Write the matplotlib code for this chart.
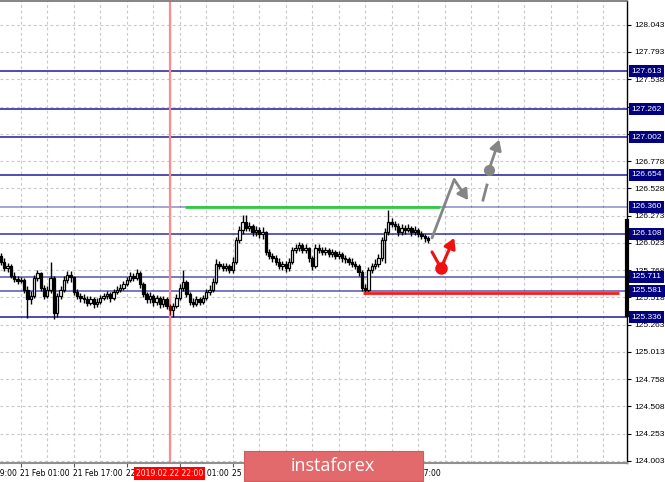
import matplotlib
matplotlib.use("Agg")
import matplotlib.pyplot as plt
from matplotlib.transforms import blended_transform_factory
from matplotlib.patches import FancyBboxPatch

# ---------------- data ----------------
first_open = 125.90
closes = [125.85, 125.79, 125.81, 125.72, 125.69, 125.67, 125.68, 125.59, 125.50, 125.53,
          125.70, 125.74, 125.61, 125.53, 125.59, 125.70, 125.37, 125.53, 125.59, 125.68,
          125.73, 125.71, 125.57, 125.53, 125.51, 125.50, 125.47, 125.50, 125.46, 125.48,
          125.51, 125.53, 125.55, 125.51, 125.57, 125.59, 125.61, 125.64, 125.68, 125.72,
          125.70, 125.74, 125.64, 125.55, 125.50, 125.53, 125.48, 125.51, 125.46, 125.50,
          125.44, 125.40, 125.44, 125.51, 125.61, 125.66, 125.55, 125.48, 125.46, 125.50,
          125.48, 125.51, 125.57, 125.59, 125.66, 125.83, 125.81, 125.79, 125.81, 125.77,
          125.85, 126.05, 126.14, 126.22, 126.16, 126.18, 126.12, 126.14, 126.11, 126.12,
          125.94, 125.90, 125.88, 125.85, 125.81, 125.83, 125.79, 125.85, 125.96, 125.98,
          126.00, 125.96, 125.98, 125.88, 125.81, 125.98, 125.96, 125.94, 125.96, 125.92,
          125.94, 125.90, 125.92, 125.88, 125.87, 125.85, 125.83, 125.81, 125.75, 125.61,
          125.59, 125.77, 125.81, 125.83, 125.88, 126.05, 126.12, 126.22, 126.20, 126.18,
          126.12, 126.16, 126.14, 126.16, 126.12, 126.14, 126.11, 126.09, 126.07, 126.05]
highs = [125.93, 125.88, 125.84, 125.83, 125.75, 125.72, 125.71, 125.70, 125.62, 125.58,
         125.73, 125.77, 125.75, 125.63, 125.62, 125.85, 125.72, 125.56, 125.62, 125.72,
         125.76, 125.76, 125.72, 125.60, 125.56, 125.55, 125.53, 125.53, 125.52, 125.51,
         125.54, 125.56, 125.58, 125.57, 125.60, 125.62, 125.64, 125.67, 125.71, 125.75,
         125.74, 125.78, 125.76, 125.66, 125.57, 125.57, 125.55, 125.54, 125.53, 125.53,
         125.52, 125.46, 125.47, 125.55, 125.64, 125.77, 125.68, 125.57, 125.51, 125.53,
         125.52, 125.54, 125.60, 125.63, 125.70, 125.87, 125.86, 125.84, 125.84, 125.83,
         125.89, 126.08, 126.18, 126.28, 126.28, 126.22, 126.20, 126.18, 126.17, 126.17,
         126.13, 125.97, 125.93, 125.91, 125.88, 125.86, 125.86, 125.88, 125.99, 126.01,
         126.03, 126.02, 126.01, 125.99, 125.90, 126.01, 126.01, 125.99, 125.99, 125.98,
         125.97, 125.96, 125.95, 125.94, 125.91, 125.89, 125.88, 125.86, 125.83, 125.77,
         125.64, 125.80, 125.84, 125.87, 125.92, 126.08, 126.16, 126.33, 126.25, 126.23,
         126.21, 126.20, 126.19, 126.20, 126.18, 126.18, 126.16, 126.13, 126.11, 126.09]
lows = [125.82, 125.76, 125.75, 125.70, 125.66, 125.64, 125.65, 125.56, 125.33, 125.46,
        125.51, 125.67, 125.58, 125.50, 125.51, 125.56, 125.32, 125.34, 125.50, 125.57,
        125.65, 125.66, 125.54, 125.50, 125.48, 125.47, 125.44, 125.45, 125.42, 125.43,
        125.46, 125.49, 125.50, 125.48, 125.49, 125.55, 125.57, 125.59, 125.62, 125.66,
        125.67, 125.68, 125.61, 125.52, 125.47, 125.47, 125.44, 125.45, 125.42, 125.43,
        125.41, 125.36, 125.34, 125.42, 125.49, 125.58, 125.52, 125.45, 125.43, 125.44,
        125.45, 125.46, 125.49, 125.54, 125.57, 125.64, 125.78, 125.76, 125.76, 125.74,
        125.74, 125.83, 126.02, 126.11, 126.13, 126.13, 126.09, 126.09, 126.07, 126.06,
        125.91, 125.87, 125.85, 125.82, 125.78, 125.77, 125.75, 125.76, 125.83, 125.93,
        125.95, 125.93, 125.93, 125.85, 125.77, 125.79, 125.93, 125.91, 125.91, 125.89,
        125.89, 125.87, 125.87, 125.85, 125.84, 125.82, 125.80, 125.78, 125.72, 125.58,
        125.55, 125.57, 125.74, 125.78, 125.80, 125.86, 125.84, 126.10, 126.17, 126.14,
        126.09, 126.10, 126.11, 126.12, 126.09, 126.10, 126.08, 126.06, 126.03, 126.02]
opens = [first_open] + closes[:-1]
highlight_idx = 51

y_tick_labels = ["128.043", "127.793", "127.538", "127.283", "127.028", "126.778", "126.528",
                 "126.273", "126.023", "125.768", "125.518", "125.263", "125.013", "124.758",
                 "124.508", "124.253", "124.003"]
levels = [127.613, 127.262, 127.002, 126.654, 126.360, 126.108, 125.711, 125.581, 125.336]
level_alpha = [1.0, 1.0, 1.0, 1.0, 0.5, 0.9, 0.75, 0.75, 1.0]

x_tick_pos = [-10, 6, 22, 38, 54, 70, 86, 102, 118]
x_tick_labels = ["20 Feb 09:00", "21 Feb 01:00", "21 Feb 17:00", "22 Feb 09:00", "25 Feb 01:00",
                 "25 Feb 17:00", "26 Feb 09:00", "27 Feb 01:00", "27 Feb 17:00"]
x_grid_pos = list(range(6, 190, 8))
crosshair_label = "2019.02.22 22:00"

green_level = 126.360
green_span = [55.6, 132.6]
red_level = 125.555
red_span = [109.4, 186.7]
range_bar = [125.36, 126.23]

grey_path_x = [130.2, 136.9]
grey_path_y = [126.07, 126.61]
grey_head_end = [141.1, 126.42]
grey_dash_x = [145.6, 146.8]
grey_dash_y = [126.42, 126.56]
grey_dot = [147.4, 126.70]
grey_tip = [150.5, 126.98]
red_path_x = [130.2, 132.9]
red_path_y = [125.94, 125.79]
red_tip = [136.9, 126.07]

# ---------------- figure ----------------
W, H = 665, 482
fig = plt.figure(figsize=(W / 100, H / 100), dpi=100)
fig.patch.set_facecolor("white")
ax = fig.add_axes([0, 19 / H, 627 / W, 462 / H])
ax.set_xlim(-0.3, 189.1)
ax.set_ylim(123.984, 128.265)

FONT = "DejaVu Sans"
FS = 5.5
YFONT = "Liberation Sans"
YFS = 6.0

# grid
ytick_vals = [float(v) for v in y_tick_labels]
for v in ytick_vals:
    ax.axhline(v, color="#c8c8c8", lw=0.8, ls=(0, (2.5, 2.5)), zorder=0)
for gx in x_grid_pos:
    ax.axvline(gx, color="#c8c8c8", lw=0.8, ls=(0, (2.5, 2.5)), zorder=0)

# levels
for lv, a in zip(levels, level_alpha):
    ax.axhline(lv, color="#1c1c96", lw=1.1, alpha=a, zorder=1)

# crosshair
ax.axvline(highlight_idx, color="#ff8a8a", lw=1.6, zorder=1.5)

# candles
for i, (o, h, l, c) in enumerate(zip(opens, highs, lows, closes)):
    col = "#800000" if i == highlight_idx else "black"
    ax.vlines(i, l, h, color=col, lw=1.0, zorder=3)
    bottom = min(o, c)
    height = max(abs(c - o), 0.006)
    face = "white" if c > o else col
    ax.bar(i, height, bottom=bottom, width=0.7, facecolor=face, edgecolor=col,
           lw=0.9, zorder=4)

# green / red horizontal lines
ax.plot(green_span, [green_level] * 2, color="#2ecc40", lw=2.0, zorder=5, solid_capstyle="butt")
ax.plot(red_span, [red_level] * 2, color="#ff1a1a", lw=2.0, zorder=5, solid_capstyle="butt")

# grey forecast
grey = "#858585"
ax.plot(grey_path_x, grey_path_y, color=grey, lw=2.0, zorder=6, solid_capstyle="round")
ax.annotate("", xy=grey_head_end, xytext=(grey_path_x[-1], grey_path_y[-1]),
            arrowprops=dict(arrowstyle="-|>,head_length=0.6,head_width=0.35", color=grey, lw=2.0,
                            shrinkA=0, shrinkB=0), zorder=6)
ax.plot(grey_dash_x, grey_dash_y, color=grey, lw=2.0, zorder=6)
ax.plot([grey_dot[0]], [grey_dot[1]], "o", color=grey, ms=7, zorder=6)
ax.annotate("", xy=grey_tip, xytext=grey_dot,
            arrowprops=dict(arrowstyle="-|>,head_length=0.6,head_width=0.35", color=grey, lw=2.0,
                            shrinkA=0, shrinkB=0), zorder=6)

# red forecast
redc = "#f01010"
ax.plot(red_path_x, red_path_y, color=redc, lw=2.2, zorder=6, solid_capstyle="round")
ax.plot([red_path_x[-1]], [red_path_y[-1]], "o", color=redc, ms=8, zorder=6)
ax.annotate("", xy=red_tip, xytext=(red_path_x[-1], red_path_y[-1]),
            arrowprops=dict(arrowstyle="-|>,head_length=0.6,head_width=0.35", color=redc, lw=2.2,
                            shrinkA=0, shrinkB=0), zorder=6)

# spines
ax.spines["left"].set_visible(False)
ax.spines["top"].set_color("#707070")
ax.spines["top"].set_linewidth(1.2)
ax.spines["bottom"].set_color("#909090")
ax.spines["bottom"].set_linewidth(1.5)
ax.spines["right"].set_color("black")
ax.spines["right"].set_linewidth(1.0)

trans_r = blended_transform_factory(ax.transAxes, ax.transData)
ax.plot([1.0, 1.0], range_bar, color="black", lw=3, transform=trans_r, clip_on=False, zorder=7)

# y ticks on right
ax.yaxis.tick_right()
ax.set_yticks(ytick_vals)
ax.set_yticklabels(y_tick_labels, fontsize=YFS, family=YFONT)
ax.tick_params(axis="y", length=3, width=0.8, pad=2, colors="black", direction="out")

# level labels (boxes cover the regular tick labels beneath)
for lv in levels:
    ax.annotate(f"{lv:.3f}", xy=(1.0, lv), xycoords=trans_r, xytext=(3.2, 0),
                textcoords="offset points", ha="left", va="center", fontsize=YFS,
                family=YFONT, color="white", zorder=10, annotation_clip=False,
                bbox=dict(boxstyle="square,pad=0.3", facecolor="#000080", edgecolor="none"))

# x ticks
ax.set_xticks(x_tick_pos[1:])
ax.set_xticklabels([])
ax.tick_params(axis="x", length=3, width=0.8, colors="#555555", direction="out")
trans_b = blended_transform_factory(ax.transData, ax.transAxes)
for xp, lab in zip(x_tick_pos, x_tick_labels):
    ax.text(xp - 0.3, -0.014, lab, transform=trans_b, ha="left", va="top", fontsize=FS,
            family=FONT, color="black", clip_on=False, zorder=8)

ax.text(highlight_idx, -0.013, crosshair_label, transform=trans_b, ha="center", va="top",
        fontsize=FS, family=FONT, color="white", clip_on=False, zorder=11,
        bbox=dict(boxstyle="square,pad=0.25", facecolor="#ff0000", edgecolor="none"))

# logo
logo = FancyBboxPatch((244 / W, 1 / H), 179 / W, 30 / H, boxstyle="square,pad=0",
                      transform=fig.transFigure, facecolor="#e36a6c", edgecolor="#d05a5c",
                      lw=0.8, zorder=20)
fig.add_artist(logo)
fig.text(333 / W, 16 / H, "instaforex", ha="center", va="center", fontsize=13,
         family="Open Sans", color="white", zorder=21)

fig.savefig("out.png", dpi=100, facecolor="white")
